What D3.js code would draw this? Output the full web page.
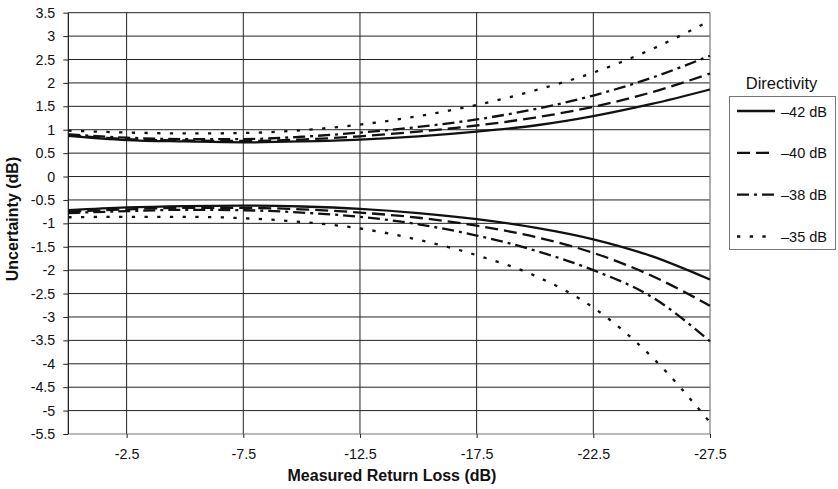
<!DOCTYPE html>
<html>
<head>
  <meta charset="utf-8">
  <title>Uncertainty vs Measured Return Loss</title>
<script src="https://cdnjs.cloudflare.com/ajax/libs/d3/7.8.5/d3.min.js"></script>
<style>
body {
  margin: 0;
  background: white;
}

text {
  font-family: "Liberation Sans", Arial, sans-serif;
  fill: #111;
}

.grid line {
  stroke: #222;
  stroke-width: 1;
}

.axis path {
  display: none;
}

.axis line {
  stroke: #222;
}

.axis text {
  font-size: 14.3px;
}

.curve {
  fill: none;
  stroke: #111;
  stroke-width: 2.3;
}

.axis-title {
  font-size: 16px;
  font-weight: bold;
}
</style>
</head>
<body>
<svg id="vis" width="838" height="489"></svg>
<script>
// measured return loss (dB), x positions of the samples
var returnLoss = [0, -2.5, -5, -7.5, -10, -12.5, -15, -17.5, -20, -22.5, -25, -27.5];

// legend entries
var directivity = ["\u201342 dB", "\u201340 dB", "\u201338 dB", "\u201335 dB"];

// upper uncertainty bound per directivity
var upper42 = [0.87, 0.78, 0.75, 0.73, 0.75, 0.79, 0.86, 0.96, 1.09, 1.29, 1.55, 1.86];
var upper40 = [0.88, 0.80, 0.77, 0.76, 0.79, 0.86, 0.96, 1.09, 1.26, 1.49, 1.80, 2.20];
var upper38 = [0.90, 0.83, 0.80, 0.80, 0.85, 0.94, 1.06, 1.22, 1.44, 1.73, 2.11, 2.58];
var upper35 = [0.98, 0.94, 0.92, 0.93, 0.99, 1.11, 1.29, 1.53, 1.84, 2.22, 2.72, 3.33];

// lower uncertainty bound per directivity
var lower42 = [-0.72, -0.66, -0.63, -0.62, -0.64, -0.69, -0.78, -0.91, -1.09, -1.34, -1.70, -2.20];
var lower40 = [-0.75, -0.70, -0.67, -0.67, -0.70, -0.77, -0.88, -1.05, -1.29, -1.63, -2.12, -2.76];
var lower38 = [-0.78, -0.74, -0.71, -0.72, -0.77, -0.86, -1.02, -1.26, -1.58, -2.00, -2.57, -3.52];
var lower35 = [-0.87, -0.86, -0.86, -0.89, -0.97, -1.11, -1.35, -1.68, -2.12, -2.80, -3.85, -5.25];

var yTicks = d3.range(-5.5, 3.51, 0.5);
var xTicks = [-2.5, -7.5, -12.5, -17.5, -22.5, -27.5];

var dashes = [null, "13,6", "12,5,3,5", "3.3,9.4"];
var series = [
  {name: directivity[0], upper: upper42, lower: lower42, dash: dashes[0]},
  {name: directivity[1], upper: upper40, lower: lower40, dash: dashes[1]},
  {name: directivity[2], upper: upper38, lower: lower38, dash: dashes[2]},
  {name: directivity[3], upper: upper35, lower: lower35, dash: dashes[3]}
];

var svg = d3.select("#vis");
var plot = {left: 68.3, right: 710, top: 12.7, bottom: 434};

var x = d3.scaleLinear()
  .domain([0, -27.5])
  .range([plot.left, plot.right]);
var y = d3.scaleLinear()
  .domain([-5.5, 3.5])
  .range([plot.bottom, plot.top]);

// grid
var grid = svg.append("g").attr("class", "grid");
grid.selectAll(".hline")
  .data(yTicks.filter(d => d > -5.5)).enter()
  .append("line")
    .attr("x1", plot.left).attr("x2", plot.right)
    .attr("y1", d => y(d)).attr("y2", d => y(d));
grid.selectAll(".vline")
  .data(xTicks.filter(d => d > -27.5)).enter()
  .append("line")
    .attr("x1", d => x(d)).attr("x2", d => x(d))
    .attr("y1", plot.top).attr("y2", plot.bottom);

// frame: grey bottom/right, black left
svg.append("line")
  .attr("x1", plot.left).attr("x2", plot.right)
  .attr("y1", plot.bottom).attr("y2", plot.bottom)
  .style("stroke", "#777").style("stroke-width", 1.2);
svg.append("line")
  .attr("x1", plot.right).attr("x2", plot.right)
  .attr("y1", plot.top).attr("y2", plot.bottom)
  .style("stroke", "#777").style("stroke-width", 1.2);
svg.append("line")
  .attr("x1", plot.left).attr("x2", plot.left)
  .attr("y1", plot.top).attr("y2", plot.bottom)
  .style("stroke", "#111").style("stroke-width", 1.2);

svg.append("g")
  .attr("class", "axis")
  .attr("transform", `translate(${plot.left},0)`)
  .call(d3.axisLeft(y).tickValues(yTicks).tickSize(5).tickPadding(8)
    .tickFormat(d => String(+d.toFixed(1))));

svg.append("g")
  .attr("class", "axis")
  .attr("transform", `translate(0,${plot.bottom})`)
  .call(d3.axisBottom(x).tickValues(xTicks).tickSize(4).tickPadding(11)
    .tickFormat(d => String(d)));

// curves
var line = d3.line()
  .x((d, i) => x(returnLoss[i]))
  .y(d => y(d))
  .curve(d3.curveMonotoneX);

var gCurves = svg.append("g");
series.forEach(function(s) {
  [s.upper, s.lower].forEach(function(vals) {
    gCurves.append("path")
      .attr("class", "curve")
      .attr("d", line(vals))
      .style("stroke-dasharray", s.dash);
  });
});

// axis titles
svg.append("text")
  .attr("class", "axis-title")
  .attr("x", 392).attr("y", 481)
  .style("text-anchor", "middle")
  .text("Measured Return Loss (dB)");

svg.append("text")
  .attr("class", "axis-title")
  .attr("transform", "translate(18,219) rotate(-90)")
  .style("text-anchor", "middle")
  .text("Uncertainty (dB)");

// legend
var legend = svg.append("g");
legend.append("text")
  .attr("x", 781.5).attr("y", 89)
  .style("text-anchor", "middle")
  .style("font-size", "16.5px")
  .text("Directivity");
legend.append("rect")
  .attr("x", 729.5).attr("y", 96.5)
  .attr("width", 106).attr("height", 153)
  .style("fill", "white").style("stroke", "#777");

var ly = d3.scalePoint()
  .domain(directivity)
  .range([111, 236.5]);

var item = legend.selectAll(".item")
  .data(series).enter()
  .append("g")
    .attr("transform", d => `translate(0,${ly(d.name)})`);
item.append("line")
  .attr("class", "curve")
  .attr("x1", 737).attr("x2", 775)
  .style("stroke-dasharray", d => d.dash);
item.append("text")
  .attr("x", 781).attr("y", 5.5)
  .style("font-size", "14.5px")
  .text(d => d.name);
</script>
</body>
</html>
